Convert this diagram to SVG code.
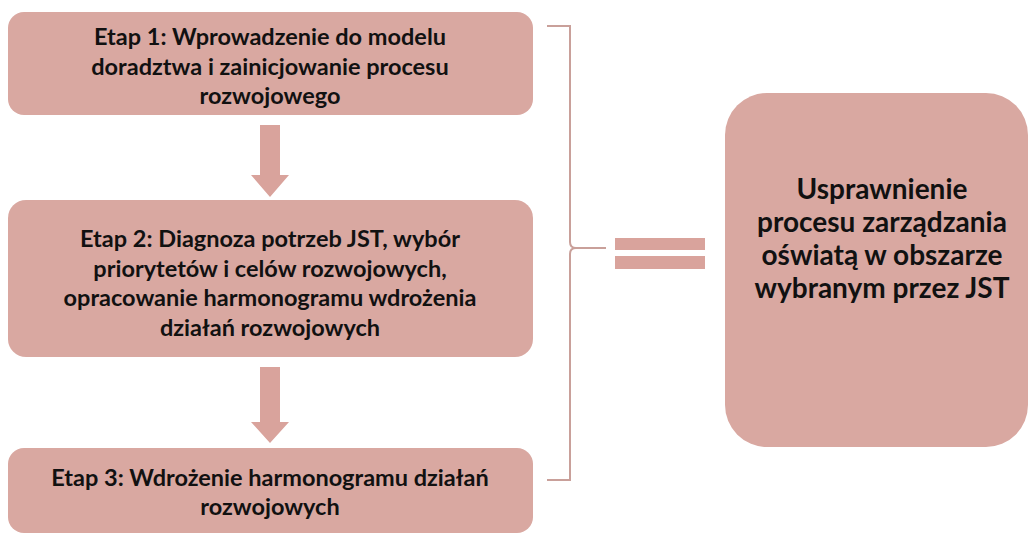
<svg xmlns="http://www.w3.org/2000/svg" width="1030" height="538" viewBox="0 0 1030 538">
<style>
.box{fill:#d9a8a1;}
.t{font-family:Lato,"Liberation Sans",sans-serif;font-weight:bold;font-size:23.5px;fill:#111;text-anchor:middle;}
.tb{font-family:Lato,"Liberation Sans",sans-serif;font-weight:bold;font-size:28px;fill:#111;text-anchor:middle;}
.arr{fill:#d9a39c;}
.br{fill:none;stroke:#c9a09a;stroke-width:2;}
</style>
<rect width="1030" height="538" fill="#ffffff"/>
<g id="connectors">
<path class="arr" d="M260,125 H280 V175 H289 L270,197 L251,175 H260 Z"/>
<path class="arr" d="M260,367 H280 V422 H289 L270,443 L251,422 H260 Z"/>
<path class="br" d="M547,26 H570 V242 Q570,248 576,248 H606 M576,248 Q570,248 570,254 V480 H547"/>
<rect class="arr" x="615" y="238" width="90" height="12"/>
<rect class="arr" x="615" y="256" width="90" height="13"/>
</g>
<g id="etap1">
<rect class="box" x="8" y="12" width="525" height="103" rx="16"/>
<text class="t" x="270" y="45">Etap 1: Wprowadzenie do modelu</text>
<text class="t" x="270" y="74.5">doradztwa i zainicjowanie procesu</text>
<text class="t" x="270" y="104">rozwojowego</text>
</g>
<g id="etap2">
<rect class="box" x="8" y="200" width="525" height="157" rx="18"/>
<text class="t" x="270" y="247">Etap 2: Diagnoza potrzeb JST, wybór</text>
<text class="t" x="270" y="276.5">priorytetów i celów rozwojowych,</text>
<text class="t" x="270" y="306">opracowanie harmonogramu wdrożenia</text>
<text class="t" x="270" y="335.5">działań rozwojowych</text>
</g>
<g id="etap3">
<rect class="box" x="8" y="448" width="525" height="85" rx="16"/>
<text class="t" x="270" y="485.5">Etap 3: Wdrożenie harmonogramu działań</text>
<text class="t" x="270" y="515">rozwojowych</text>
</g>
<g id="wynik">
<rect class="box" x="725" y="93" width="303" height="354" rx="42"/>
<text class="tb" x="882" y="199">Usprawnienie</text>
<text class="tb" x="882" y="232">procesu zarządzania</text>
<text class="tb" x="882" y="265">oświatą w obszarze</text>
<text class="tb" x="882" y="298">wybranym przez JST</text>
</g>
</svg>
